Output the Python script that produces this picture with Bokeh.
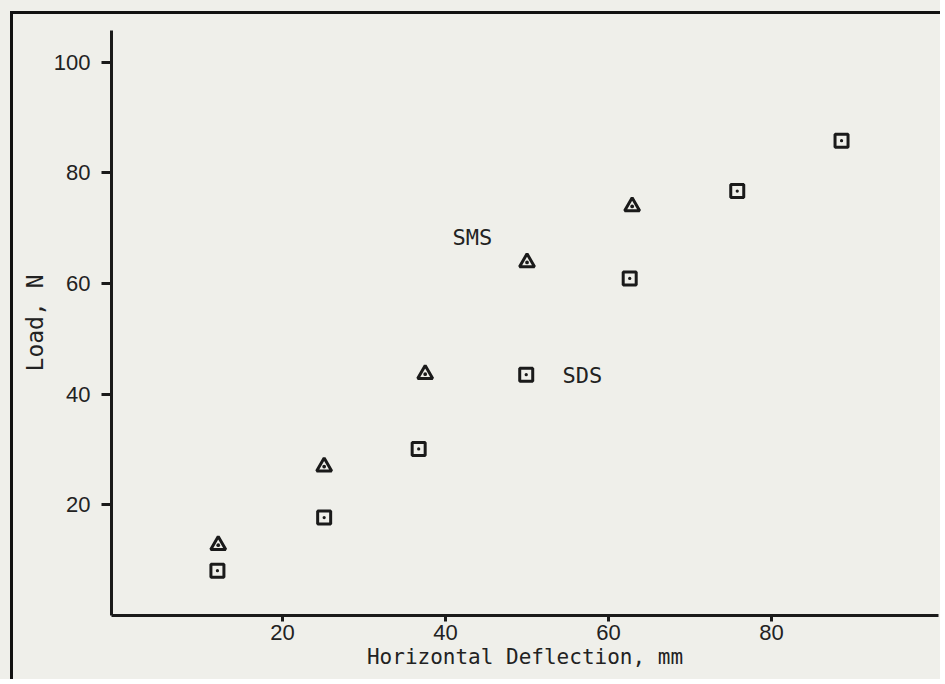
from bokeh.plotting import figure
from bokeh.models import FixedTicker, Range1d, ColumnDataSource
from bokeh.layouts import column
from bokeh.embed import file_html
from bokeh.resources import INLINE
from bokeh.core.properties import value

# Data
sms_x = [12.1, 25.1, 37.5, 50.0, 62.9]
sms_y = [12.7, 26.9, 43.6, 63.8, 73.9]
sds_x = [12.0, 25.1, 36.7, 49.9, 62.6, 75.8, 88.6]
sds_y = [8.1, 17.7, 30.1, 43.5, 60.9, 76.7, 85.8]

x_ticks = [20, 40, 60, 80]
y_ticks = [20, 40, 60, 80, 100]

series_names = ["SMS", "SDS"]
name_x = [43.3, 56.8]
name_y = [68.3, 43.4]

PAPER = "#efefea"
INK = "#1a1a1a"
TEXT = "#222222"

p = figure(width=930, height=668, output_backend="svg", toolbar_location=None,
           x_range=Range1d(-1.0, 100.5), y_range=Range1d(0, 105.7),
           min_border_left=98, min_border_right=5, min_border_top=16,
           min_border_bottom=67)
p.background_fill_color = PAPER
p.border_fill_color = PAPER
p.outline_line_color = None
p.xgrid.visible = False
p.ygrid.visible = False

for ax in (p.xaxis[0], p.yaxis[0]):
    ax.axis_line_color = INK
    ax.axis_line_width = 3
    ax.major_tick_line_color = INK
    ax.major_tick_line_width = 3
    ax.major_tick_in = 0
    ax.minor_tick_line_color = None
    ax.major_label_text_font = "Liberation Sans"
    ax.major_label_text_font_size = "22px"
    ax.major_label_text_color = TEXT
    ax.axis_label_text_font = "DejaVu Sans Mono"
    ax.axis_label_text_font_style = "normal"
    ax.axis_label_text_color = TEXT

p.xaxis[0].ticker = FixedTicker(ticks=x_ticks)
p.yaxis[0].ticker = FixedTicker(ticks=y_ticks)
p.xaxis[0].major_tick_out = 6
p.yaxis[0].major_tick_out = 10
p.xaxis[0].major_label_standoff = 3
p.yaxis[0].major_label_standoff = 11
p.xaxis[0].axis_label = "Horizontal Deflection, mm"
p.yaxis[0].axis_label = "Load, N"
p.xaxis[0].axis_label_text_font_size = "21px"
p.yaxis[0].axis_label_text_font_size = "23px"
p.xaxis[0].axis_label_standoff = 2
p.yaxis[0].axis_label_standoff = 3

p.scatter(sms_x, sms_y, marker="triangle_dot", size=15, fill_color=None,
          line_color=INK, line_width=3)
p.scatter(sds_x, sds_y, marker="square_dot", size=13, fill_color=None,
          line_color=INK, line_width=3)

src = ColumnDataSource(dict(x=name_x, y=name_y, t=series_names))
p.text(x="x", y="y", text="t", source=src, text_font=value("DejaVu Sans Mono"),
       text_font_size="22px", text_align="center", text_baseline="middle",
       text_color=TEXT)

p.styles = {"border-left": "3px solid #111", "border-top": "3px solid #111"}
layout = column(p, styles={"background-color": PAPER, "padding-left": "10px",
                           "padding-top": "11px"})

open("out.html", "w").write(file_html(layout, INLINE))
